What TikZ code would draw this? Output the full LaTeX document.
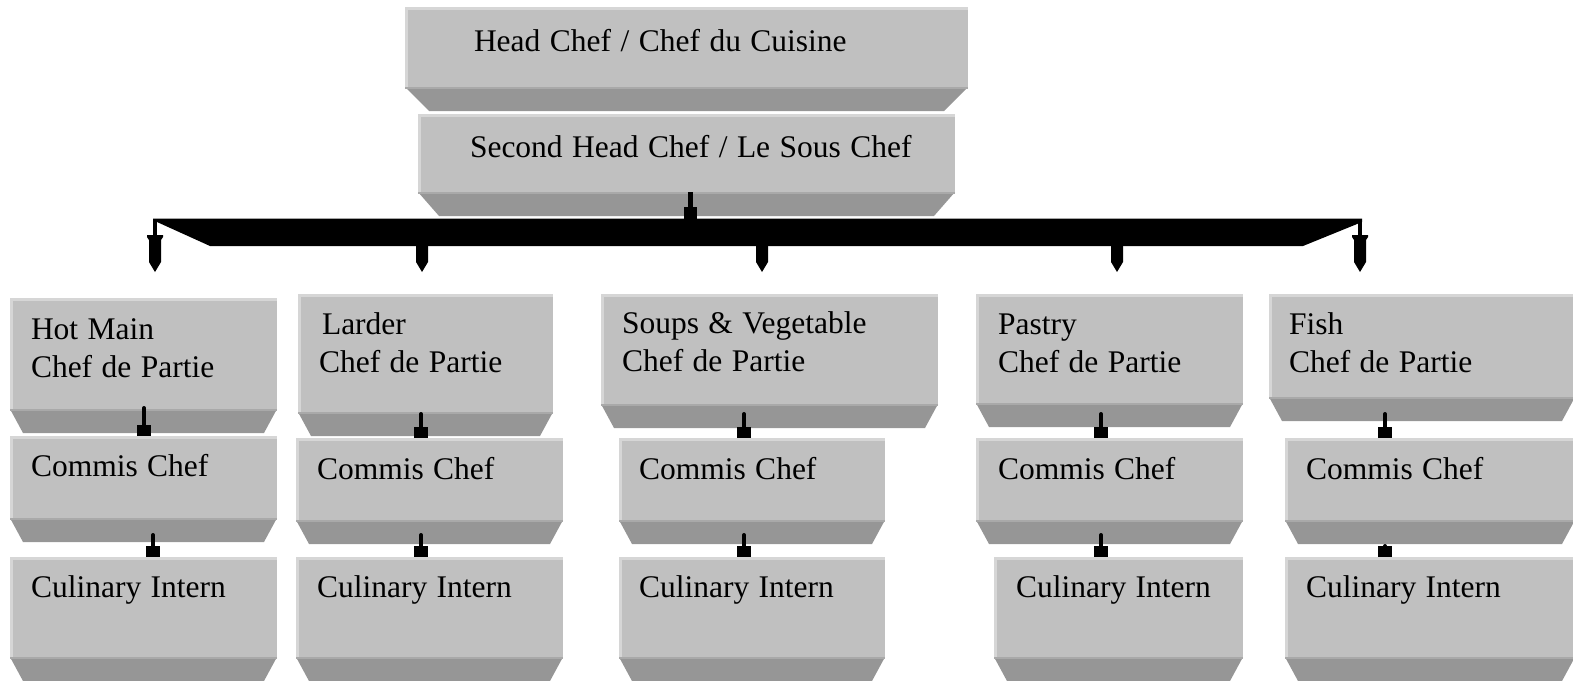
\documentclass[tikz,border=0pt]{standalone}
\usepackage{fontspec}
\setmainfont{Liberation Serif}
\usetikzlibrary{calc}
\definecolor{frontc}{HTML}{C0C0C0}
\definecolor{bevelc}{HTML}{969696}
\definecolor{hilitec}{HTML}{D6D6D6}
\definecolor{edgec}{HTML}{A9A9A9}
\newcommand\bevelof[2]{%
  \fill[bevelc] (#1.south west) -- (#1.south east) -- ($(#1.south east)+(-#2,24)$) -- ($(#1.south west)+(#2,24)$) -- cycle;
  \draw[edgec, line width=2pt] ($(#1.south west)+(0,1)$) -- ($(#1.south east)+(0,1)$);
  \draw[hilitec, line width=3pt] ($(#1.south west)+(1.5,0)$) -- ($(#1.north west)+(1.5,1.5)$) -- ($(#1.north east)+(0,1.5)$);}
\newcommand\plugto[4]{%
  \draw[line width=4pt, line cap=round] ($(#2.north west)+(#3,-#4)$) -- ($(#2.north west)+(#3,-11)$);
  \fill ($(#2.north west)+(#3-7,-11)$) rectangle ($(#2.north west)+(#3+7,0)$);}
\tikzset{
  box/.style={fill=frontc, draw=none, inner sep=0pt, outer sep=0pt, anchor=north west,
    align=left, font=\fontsize{31.5}{38}\selectfont},
  dims/.style n args={4}{text width=#1, text height=#2, text depth=#3,
    execute at begin node={\setlength\leftskip{#4}\spaceskip=.3em\xspaceskip=.3em\relax}},
  pencil/.pic={\fill (-8,0) -- (8,0) -- (8,2) -- (6,5) -- (6,27) -- (0,37) -- (-6,27) -- (-6,5) -- (-8,2) -- cycle;}
}
\begin{document}
\begin{tikzpicture}[x=1pt,y=-1pt]
\useasboundingbox (0,0) rectangle (1573,680);
\clip (0,0) rectangle (1573,680);
% boxes
\node[box, dims={563pt}{44pt}{36pt}{69pt}] (hc) at (405,7) {Head Chef / Chef du Cuisine};
\node[box, dims={537pt}{43pt}{35pt}{52pt}] (sc) at (418,114) {Second Head Chef / Le Sous Chef};
\node[box, dims={267pt}{41pt}{70pt}{21pt}] (p1) at (10,298) {Hot Main\\Chef de Partie};
\node[box, dims={267pt}{40pt}{42pt}{21pt}] (c1) at (10,436) {Commis Chef};
\node[box, dims={267pt}{40pt}{60pt}{21pt}] (i1) at (10,557) {Culinary Intern};
\node[box, dims={255pt}{40pt}{78pt}{21pt}] (p2) at (298,294) {\hspace*{3pt}Larder\\Chef de Partie};
\node[box, dims={267pt}{41pt}{41pt}{21pt}] (c2) at (296,438) {Commis Chef};
\node[box, dims={267pt}{40pt}{60pt}{21pt}] (i2) at (296,557) {Culinary Intern};
\node[box, dims={337pt}{39pt}{71pt}{21pt}] (p3) at (601,294) {Soups \& Vegetable\\Chef de Partie};
\node[box, dims={266pt}{41pt}{41pt}{20pt}] (c3) at (619,438) {Commis Chef};
\node[box, dims={266pt}{40pt}{60pt}{20pt}] (i3) at (619,557) {Culinary Intern};
\node[box, dims={267pt}{40pt}{69pt}{22pt}] (p4) at (976,294) {Pastry\\Chef de Partie};
\node[box, dims={267pt}{41pt}{41pt}{22pt}] (c4) at (976,438) {Commis Chef};
\node[box, dims={249pt}{40pt}{60pt}{22pt}] (i4) at (994,557) {Culinary Intern};
\node[box, dims={306pt}{40pt}{63pt}{20pt}] (p5) at (1269,294) {Fish\\Chef de Partie};
\node[box, dims={290pt}{41pt}{41pt}{21pt}] (c5) at (1285,438) {Commis Chef};
\node[box, dims={290pt}{40pt}{60pt}{21pt}] (i5) at (1285,557) {Culinary Intern};
% bevels
\bevelof{hc}{24}\bevelof{sc}{21}
\bevelof{p1}{13}\bevelof{c1}{13}\bevelof{i1}{13}
\bevelof{p2}{13}\bevelof{c2}{13}\bevelof{i2}{13}
\bevelof{p3}{13}\bevelof{c3}{13}\bevelof{i3}{13}
\bevelof{p4}{13}\bevelof{c4}{13}\bevelof{i4}{13}
\bevelof{p5}{13}\bevelof{c5}{13}\bevelof{i5}{13}
% connector from second head chef to the bar
\coordinate (barL) at (153,219);
\coordinate (barR) at (1362,219);
\draw[line width=5pt] ($(sc.south west)+(272,0)$) -- ($(sc.south west)+(272,16)$);
\fill ($(sc.south west)+(266,15)$) rectangle ($(sc.south west)+(279,28)$);
\fill ($(barL)+(0,-0.5)$) -- ($(barR)+(0,-0.5)$) -- ($(barR)+(0,3)$) -- (1303,246) -- (210,246) -- ($(barL)+(4,3)$) -- ($(barL)+(0,3)$) -- cycle;
\fill (barL) rectangle ($(barL)+(4,17)$);
\fill ($(barR)+(-4,0)$) rectangle ($(barR)+(0,17)$);
\path (155,235) pic {pencil} (422,235) pic {pencil} (762,235) pic {pencil}
      (1117,235) pic {pencil} (1360,235) pic {pencil};
% connectors within columns
\plugto{p1}{c1}{134}{28}\plugto{c1}{i1}{143}{22}
\plugto{p2}{c2}{125}{24}\plugto{c2}{i2}{125}{22}
\plugto{p3}{c3}{125}{24}\plugto{c3}{i3}{125}{22}
\plugto{p4}{c4}{125}{24}\plugto{c4}{i4}{107}{22}
\plugto{p5}{c5}{100}{24}\plugto{c5}{i5}{100}{11}
\end{tikzpicture}
\end{document}
